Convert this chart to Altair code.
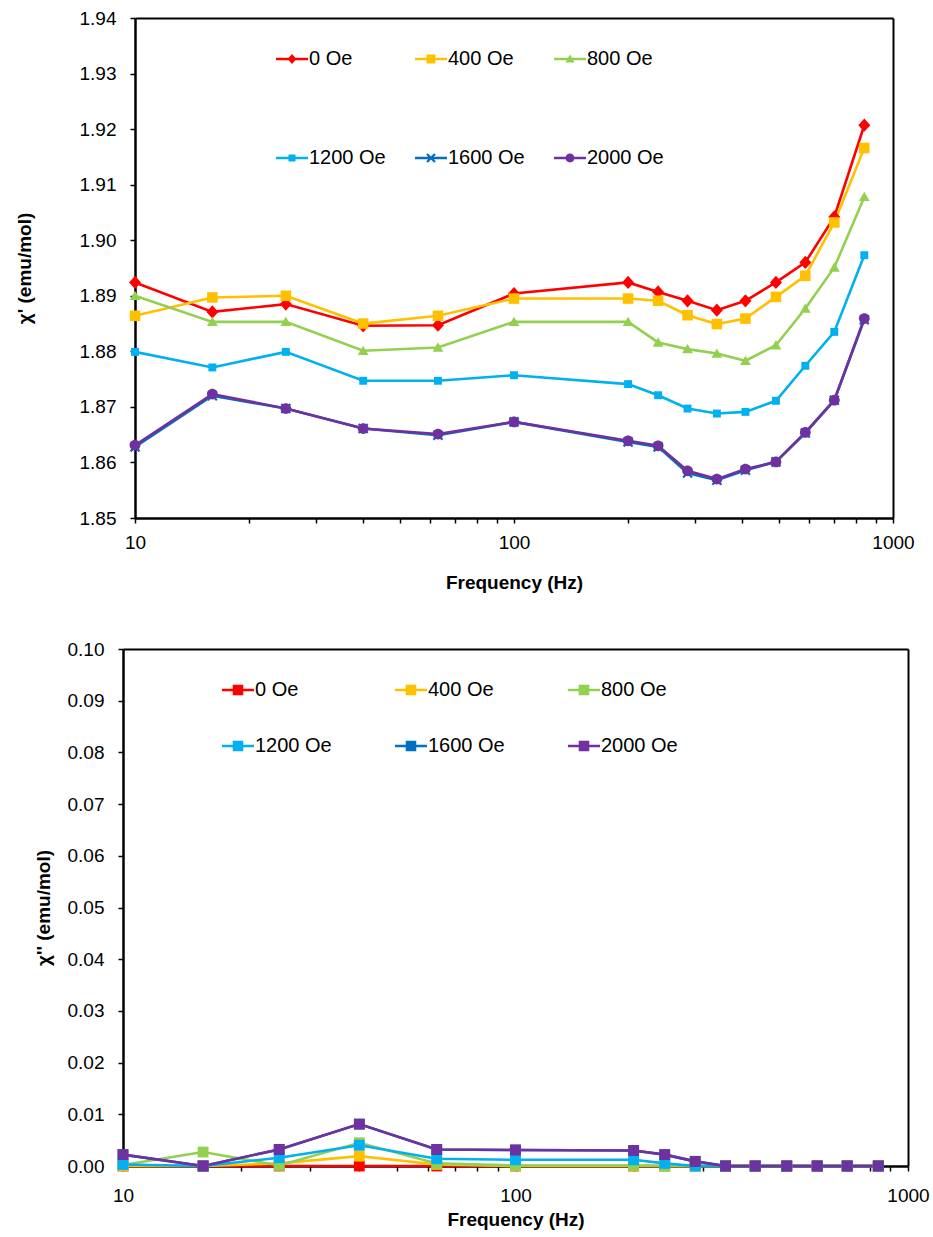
import altair as alt
import pandas as pd

# AC susceptibility of the sample vs. drive frequency, for six DC bias fields
freq_hz = [10, 16, 25, 40, 63, 100, 200, 240, 287, 343, 408, 491, 587, 700, 840]
fields = ["0 Oe", "400 Oe", "800 Oe", "1200 Oe", "1600 Oe", "2000 Oe"]
colors = ["#FF0000", "#FFC000", "#92D050", "#00B0F0", "#0070C0", "#7030A0"]

# in-phase part chi' (emu/mol)
chi1_0 = [1.8924, 1.8871, 1.8885, 1.8846, 1.8847, 1.8904, 1.8924, 1.8907, 1.8891, 1.8874, 1.8891, 1.8924, 1.8960, 1.9042, 1.9207]
chi1_400 = [1.8864, 1.8897, 1.8900, 1.8850, 1.8864, 1.8895, 1.8895, 1.8891, 1.8865, 1.8849, 1.8859, 1.8898, 1.8936, 1.9032, 1.9166]
chi1_800 = [1.8900, 1.8853, 1.8853, 1.8801, 1.8807, 1.8853, 1.8853, 1.8816, 1.8804, 1.8796, 1.8783, 1.8811, 1.8877, 1.8951, 1.9078]
chi1_1200 = [1.8799, 1.8771, 1.8799, 1.8747, 1.8747, 1.8757, 1.8741, 1.8721, 1.8697, 1.8688, 1.8691, 1.8711, 1.8774, 1.8835, 1.8973]
chi1_1600 = [1.8628, 1.8720, 1.8697, 1.8661, 1.8649, 1.8673, 1.8637, 1.8628, 1.8581, 1.8568, 1.8586, 1.8601, 1.8653, 1.8712, 1.8857]
chi1_2000 = [1.8631, 1.8723, 1.8697, 1.8661, 1.8651, 1.8673, 1.8639, 1.8630, 1.8585, 1.8570, 1.8588, 1.8601, 1.8654, 1.8712, 1.8859]

# out-of-phase part chi'' (emu/mol)
chi2_0 = [0.0000, 0.0000, 0.0000, 0.0000, 0.0000, 0.0000, 0.0000, 0.0000, 0.0000, 0.0000, 0.0000, 0.0000, 0.0000, 0.0000, 0.0000]
chi2_400 = [0.0000, 0.0000, 0.0005, 0.0019, 0.0003, 0.0000, 0.0000, 0.0000, 0.0000, 0.0000, 0.0000, 0.0000, 0.0000, 0.0000, 0.0000]
chi2_800 = [0.0002, 0.0027, 0.0001, 0.0045, 0.0005, 0.0001, 0.0001, 0.0000, 0.0000, 0.0000, 0.0000, 0.0000, 0.0000, 0.0000, 0.0000]
chi2_1200 = [0.0003, 0.0000, 0.0016, 0.0040, 0.0014, 0.0012, 0.0012, 0.0005, 0.0000, 0.0000, 0.0000, 0.0000, 0.0000, 0.0000, 0.0000]
chi2_1600 = [0.0022, 0.0000, 0.0032, 0.0081, 0.0032, 0.0031, 0.0030, 0.0022, 0.0009, 0.0000, 0.0000, 0.0000, 0.0000, 0.0000, 0.0000]
chi2_2000 = [0.0022, 0.0000, 0.0032, 0.0081, 0.0032, 0.0031, 0.0030, 0.0022, 0.0009, 0.0000, 0.0000, 0.0000, 0.0000, 0.0000, 0.0000]

x_ticks = [10, 20, 30, 40, 50, 60, 70, 80, 90, 100, 200, 300, 400, 500, 600, 700, 800, 900, 1000]
y1_ticks = [1.85, 1.86, 1.87, 1.88, 1.89, 1.90, 1.91, 1.92, 1.93, 1.94]
y2_ticks = [0.00, 0.01, 0.02, 0.03, 0.04, 0.05, 0.06, 0.07, 0.08, 0.09, 0.10]


def long_table(series):
    rows = []
    for name, vals in zip(fields, series):
        for f, v in zip(freq_hz, vals):
            rows.append({"field": name, "freq": f, "chi": v})
    return pd.DataFrame(rows)


df1 = long_table([chi1_0, chi1_400, chi1_800, chi1_1200, chi1_1600, chi1_2000])
df2 = long_table([chi2_0, chi2_400, chi2_800, chi2_1200, chi2_1600, chi2_2000])


# ---- marker outlines as SVG paths in the [-1, 1] symbol box ----
def n(v):
    return f"{round(v, 3):g}"


def square(h):
    return f"M{n(-h)},{n(-h)}H{n(h)}V{n(h)}H{n(-h)}Z"


def diamond(h, v):
    return f"M0,{n(-v)}L{n(h)},0L0,{n(v)}L{n(-h)},0Z"


def triangle(h, top, bottom):
    return f"M0,{n(-top)}L{n(h)},{n(bottom)}H{n(-h)}Z"


def circle(r):
    return f"M{n(-r)},0A{n(r)},{n(r)} 0 1,1 {n(r)},0A{n(r)},{n(r)} 0 1,1 {n(-r)},0Z"


def cross(a, d):
    b1 = f"M{n(-a + d)},{n(-a - d)}L{n(a + d)},{n(a - d)}L{n(a - d)},{n(a + d)}L{n(-a - d)},{n(-a + d)}Z"
    b2 = f"M{n(-a - d)},{n(a - d)}L{n(a - d)},{n(-a - d)}L{n(a + d)},{n(-a + d)}L{n(-a + d)},{n(a + d)}Z"
    return b1 + b2


KEY_LINE = "M-1,-0.085H1V0.085H-1Z"

marks1 = [diamond(1.0, 1.1), square(0.88), triangle(0.9, 0.85, 0.7), square(0.66), cross(0.75, 0.13), circle(0.9)]
keys1 = [KEY_LINE + p for p in [diamond(0.28, 0.32), square(0.28), triangle(0.28, 0.3, 0.22),
                                 square(0.22), cross(0.25, 0.05), circle(0.28)]]
marks2 = [square(0.9)] * 6
keys2 = [KEY_LINE + square(0.33)] * 6

SANS = "Liberation Sans"
NARROW = "Liberation Sans Narrow, Arial Narrow, Liberation Sans"

LABEL_EXPR = "datum.value == 10 || datum.value == 100 || datum.value == 1000 ? '' + datum.value : ''"


def panel(df, y_title, y_domain, y_values, marks, keys, width, height, x_range,
          key_x, key_y, key_row_pad, key_col_pad,
          x_label_pad, x_title_pad, y_title_pad, y_offset):
    x_scale = alt.Scale(type="log", domain=[10, 1000], nice=False, range=x_range)
    y_scale = alt.Scale(domain=y_domain, nice=False, zero=False)

    x_axis = alt.Axis(values=x_ticks, labelExpr=LABEL_EXPR, title="Frequency (Hz)",
                      labelPadding=x_label_pad, titlePadding=x_title_pad)
    y_axis = alt.Axis(values=y_values, format=".2f", title=y_title, labelPadding=14,
                      titlePadding=y_title_pad, offset=y_offset)
    # plain domain lines closing the frame on the top and right
    x_frame = alt.Axis(orient="top", labels=False, ticks=False, title=None, domainWidth=2)
    y_frame = alt.Axis(orient="right", labels=False, ticks=False, title=None, domainWidth=2)

    color_scale = alt.Scale(domain=fields, range=colors)
    base = alt.Chart(df)

    lines = base.mark_line(strokeWidth=2.6).encode(
        x=alt.X("freq:Q", scale=x_scale, axis=x_axis),
        y=alt.Y("chi:Q", scale=y_scale, axis=y_axis),
        color=alt.Color("field:N", scale=color_scale, legend=None),
    )
    points = base.mark_point(filled=True, size=144, opacity=1).encode(
        x=alt.X("freq:Q", scale=x_scale, axis=x_frame),
        y=alt.Y("chi:Q", scale=y_scale, axis=y_frame),
        color=alt.Color("field:N", scale=color_scale, legend=None),
        shape=alt.Shape("field:N", scale=alt.Scale(domain=fields, range=marks), legend=None),
    )
    key_legend = alt.Legend(
        title=None,
        orient="none",
        legendX=key_x,
        legendY=key_y,
        direction="horizontal",
        columns=3,
        gridAlign="all",
        columnPadding=key_col_pad,
        rowPadding=key_row_pad,
        padding=0,
        symbolSize=1024,
        symbolStrokeWidth=0,
        symbolOpacity=1,
        labelFont=SANS,
        labelFontSize=20,
        labelColor="black",
        labelOffset=1,
        labelLimit=300,
    )
    key = base.mark_point(filled=True, size=1024, opacity=1).encode(
        color=alt.Color("field:N", scale=color_scale, legend=key_legend),
        shape=alt.Shape("field:N", scale=alt.Scale(domain=fields, range=keys), legend=key_legend),
    ).transform_filter("false")

    return (
        alt.layer(lines, points, key)
        .resolve_scale(shape="independent")
        .resolve_axis(x="independent", y="independent")
        .resolve_legend(color="independent", shape="independent")
        .properties(width=width, height=height)
    )


# upper panel: its plot starts 12 px right of the lower one, so the x range
# and the left axis are shifted inside a slightly wider view
top = panel(df1, "χ' (emu/mol)", [1.85, 1.94], y1_ticks, marks1, keys1, 770, 500, [12, 770],
            key_x=153, key_y=25, key_row_pad=73, key_col_pad=29,
            x_label_pad=10, x_title_pad=21, y_title_pad=45, y_offset=-12)
bottom = panel(df2, "χ'' (emu/mol)", [0.0, 0.10], y2_ticks, marks2, keys2, 785, 517, [0, 785],
               key_x=99, key_y=25, key_row_pad=30, key_col_pad=63,
               x_label_pad=15, x_title_pad=5, y_title_pad=14, y_offset=0)

chart = (
    alt.vconcat(top, bottom, spacing=46)
    .properties(padding={"left": 14, "top": 8, "right": 0, "bottom": 0}, background="white")
    .configure_view(stroke="transparent")
    .configure_axis(
        grid=False,
        domainColor="black",
        domainWidth=2.5,
        tickColor="black",
        tickWidth=1.5,
        tickSize=5,
        labelColor="black",
        titleColor="black",
    )
    .configure_axisX(labelFont=NARROW, labelFontSize=19, titleFont=NARROW,
                     titleFontSize=19, titleFontWeight="bold", labelFlush=False, labelOverlap=False)
    .configure_axisY(labelFont=SANS, labelFontSize=19, titleFont=SANS,
                     titleFontSize=19, titleFontWeight="bold")
)

chart.save("out.html", embed_options={"renderer": "svg", "actions": False})
